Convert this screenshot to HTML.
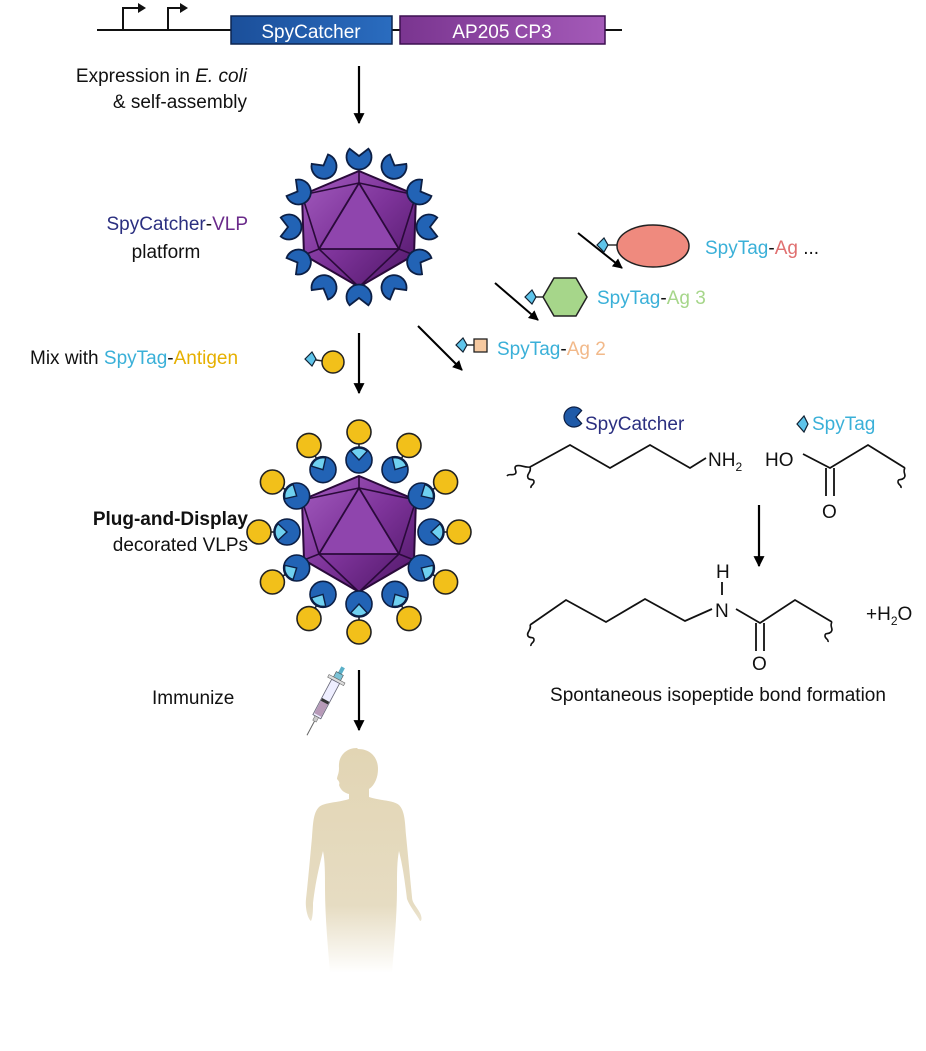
<!DOCTYPE html>
<html><head><meta charset="utf-8"><style>
html,body{margin:0;padding:0;background:#fff}
svg{display:block}
text{font-family:"Liberation Sans",Arial,sans-serif}
</style></head><body>
<svg id="s" width="926" height="1051" viewBox="0 0 926 1051" xmlns="http://www.w3.org/2000/svg">
<defs>
<linearGradient id="vg" x1="0" y1="0" x2="1" y2="1"><stop offset="0" stop-color="#a35cbf"/><stop offset="0.5" stop-color="#7d3399"/><stop offset="1" stop-color="#4e1666"/></linearGradient>
<linearGradient id="hg" x1="0" y1="0" x2="0" y2="1"><stop offset="0" stop-color="#e2d5b4"/><stop offset="0.7" stop-color="#e6dcc2"/><stop offset="1" stop-color="#ffffff"/></linearGradient>
<linearGradient id="bb" x1="0" y1="0" x2="1" y2="0"><stop offset="0" stop-color="#1b4f9a"/><stop offset="1" stop-color="#2a6cbf"/></linearGradient>
<linearGradient id="pb" x1="0" y1="0" x2="1" y2="0"><stop offset="0" stop-color="#7a3590"/><stop offset="1" stop-color="#a45ab8"/></linearGradient>
<marker id="ah" viewBox="0 0 10 10" refX="9" refY="5" markerWidth="5" markerHeight="5" orient="auto"><path d="M0,0 L10,5 L0,10 z" fill="#000"/></marker>
</defs>
<line x1="97" y1="30" x2="622" y2="30" stroke="#111" stroke-width="2"/>
<path d="M123,30 V8 H140" fill="none" stroke="#111" stroke-width="2"/><path d="M138,3 L146,8 L138,13z" fill="#111"/>
<path d="M168,30 V8 H182" fill="none" stroke="#111" stroke-width="2"/><path d="M180,3 L188,8 L180,13z" fill="#111"/>
<rect x="231" y="16" width="161" height="28" fill="url(#bb)" stroke="#0d2550" stroke-width="1.5"/>
<text x="311" y="38" font-size="19" fill="#fff" text-anchor="middle">SpyCatcher</text>
<rect x="400" y="16" width="205" height="28" fill="url(#pb)" stroke="#3d1050" stroke-width="1.5"/>
<text x="502" y="38" font-size="19" fill="#fff" text-anchor="middle">AP205 CP3</text>

<text x="247" y="82" font-size="19" text-anchor="end" fill="#111">Expression in <tspan font-style="italic">E. coli</tspan></text>
<text x="247" y="108" font-size="19" text-anchor="end" fill="#111">&amp; self-assembly</text>

<line x1="359" y1="66" x2="359" y2="123" stroke="#000" stroke-width="2.2" marker-end="url(#ah)"/>
<line x1="359" y1="333" x2="359" y2="393" stroke="#000" stroke-width="2.2" marker-end="url(#ah)"/>
<line x1="359" y1="670" x2="359" y2="730" stroke="#000" stroke-width="2.2" marker-end="url(#ah)"/>

<text x="248" y="230" font-size="19" text-anchor="end"><tspan fill="#2b2f80">SpyCatcher</tspan><tspan fill="#111">-</tspan><tspan fill="#6a2a8a">VLP</tspan></text>
<text x="166" y="258" font-size="19" text-anchor="middle" fill="#111">platform</text>

<text x="30" y="364" font-size="19" fill="#111">Mix with <tspan fill="#3ab0d8">SpyTag</tspan>-<tspan fill="#e6b000">Antigen</tspan></text>
<text x="248" y="525" font-size="19" text-anchor="end" font-weight="bold" fill="#111">Plug-and-Display</text>
<text x="248" y="551" font-size="19" text-anchor="end" fill="#111">decorated VLPs</text>
<text x="152" y="704" font-size="19" fill="#111">Immunize</text>

<line x1="578" y1="233" x2="622" y2="268" stroke="#000" stroke-width="2" marker-end="url(#ah)"/>
<line x1="495" y1="283" x2="538" y2="320" stroke="#000" stroke-width="2" marker-end="url(#ah)"/>
<line x1="418" y1="326" x2="462" y2="370" stroke="#000" stroke-width="2" marker-end="url(#ah)"/>

<!-- free antigens with tags -->
<line x1="608" y1="245" x2="617" y2="245" stroke="#222" stroke-width="1.4"/>
<polygon points="597,245 604,238 608,245 604,252" fill="#5ec4ea" stroke="#123" stroke-width="1.2"/>
<ellipse cx="653" cy="246" rx="36" ry="21" fill="#ef8a7e" stroke="#222" stroke-width="1.5"/>
<text x="705" y="254" font-size="19"><tspan fill="#3ab0d8">SpyTag</tspan><tspan fill="#111">-</tspan><tspan fill="#e07070">Ag</tspan><tspan fill="#111"> ...</tspan></text>

<line x1="536" y1="297" x2="543" y2="297" stroke="#222" stroke-width="1.4"/>
<polygon points="525,297 532,290 536,297 532,304" fill="#5ec4ea" stroke="#123" stroke-width="1.2"/>
<polygon points="587,297 576,316 554,316 543,297 554,278 576,278" fill="#a6d68a" stroke="#222" stroke-width="1.5"/>
<text x="597" y="304" font-size="19"><tspan fill="#3ab0d8">SpyTag</tspan><tspan fill="#111">-</tspan><tspan fill="#a6d68a">Ag 3</tspan></text>

<line x1="467" y1="345" x2="474" y2="345" stroke="#222" stroke-width="1.4"/>
<polygon points="456,345 463,338 467,345 463,352" fill="#5ec4ea" stroke="#123" stroke-width="1.2"/>
<rect x="474" y="339" width="13" height="13" fill="#f6c9a0" stroke="#222" stroke-width="1.3"/>
<text x="497" y="355" font-size="19"><tspan fill="#3ab0d8">SpyTag</tspan><tspan fill="#111">-</tspan><tspan fill="#f2b98a">Ag 2</tspan></text>

<line x1="316" y1="360" x2="323" y2="361" stroke="#222" stroke-width="1.4"/>
<polygon points="305,359 312,352 316,359 312,366" fill="#5ec4ea" stroke="#123" stroke-width="1.2"/>
<circle cx="333" cy="362" r="11" fill="#f2c01a" stroke="#222" stroke-width="1.5"/>

<g id="dyn"></g>

<!-- chemistry -->
<g fill="none" stroke="#111" stroke-width="1.8">
<path d="M530,467 L570,445 L610,468 L650,445 L690,468 L706,458"/>
<path d="M803,454 L830,468 L868,445 L905,468"/>
<path d="M826,468 V496 M834,468 V496"/>
<path d="M530,625 L566,600 L606,622 L645,599 L685,621 L712,609"/>
<path d="M736,609 L760,623 L795,600 L832,622"/>
<path d="M756,623 V651 M764,623 V651"/>
<path d="M722,582 V595"/>
</g>
<g fill="none" stroke="#111" stroke-width="1.6">
<path d="M530,467 c-6,1 -10,-3 -14,-1 c-3,2 2,6 -1,8 c-3,2 -6,-1 -8,2"/>
<path d="M530,467 c2,5 -4,7 -2,11 c2,3 6,0 6,4 c0,3 -4,3 -3,6"/>
<path d="M905,468 c-3,4 2,7 -1,10 c-3,3 -6,0 -6,4 c0,3 4,3 3,6"/>
<path d="M530,625 c2,5 -4,7 -2,11 c2,3 6,0 6,4 c0,3 -4,3 -3,6"/>
<path d="M832,622 c-3,4 2,7 -1,10 c-3,3 -6,0 -6,4 c0,3 4,3 3,6"/>
</g>
<line x1="759" y1="505" x2="759" y2="566" stroke="#000" stroke-width="2.2" marker-end="url(#ah)"/>
<text x="708" y="466" font-size="19" fill="#111">NH<tspan font-size="12" dy="5">2</tspan></text>
<text x="765" y="466" font-size="19" fill="#111">HO</text>
<text x="822" y="518" font-size="19" fill="#111">O</text>
<text x="716" y="578" font-size="19" fill="#111">H</text>
<text x="715" y="617" font-size="19" fill="#111">N</text>
<text x="752" y="670" font-size="19" fill="#111">O</text>
<text x="866" y="620" font-size="19" fill="#111">+H<tspan font-size="12" dy="5">2</tspan><tspan dy="-5">O</tspan></text>
<text x="718" y="701" font-size="19" text-anchor="middle" fill="#111">Spontaneous isopeptide bond formation</text>
<text x="585" y="430" font-size="19" fill="#2b2f80">SpyCatcher</text>
<text x="812" y="430" font-size="19" fill="#3ab0d8">SpyTag</text>
<polygon points="797,424 804,416 808,424 804,432" fill="#5ec4ea" stroke="#123" stroke-width="1.2"/>

<g transform="translate(322,707) rotate(28)">
<rect x="-2" y="-45" width="4" height="8" fill="#5ab0c8"/>
<rect x="-4" y="-38" width="8" height="6" fill="#7cc3d6" stroke="#555" stroke-width="0.6"/>
<rect x="-9" y="-32" width="18" height="3" fill="#ddd" stroke="#666" stroke-width="0.6"/>
<rect x="-4.5" y="-29" width="9" height="40" fill="#eef" stroke="#667" stroke-width="0.8"/>
<rect x="-4" y="-5" width="8" height="14" fill="#b79ab8"/>
<rect x="-4" y="-8" width="8" height="3" fill="#333"/>
<rect x="-2" y="11" width="4" height="5" fill="#ccc" stroke="#666" stroke-width="0.5"/>
<line x1="0" y1="16" x2="0" y2="32" stroke="#666" stroke-width="1"/>
</g>

<path fill="url(#hg)" d="M357,748 c-12,0 -19,9 -18,20 c0,6 -2,8 -2,11 c2,2 3,4 2,6 c2,6 6,8 10,9 l0,5 c-12,4 -24,3 -30,8 c-6,6 -6,18 -7,30 c-2,22 -4,44 -6,62 c-1,10 2,20 5,22 c2,-4 2,-12 2,-18 c2,-18 6,-36 10,-52 c2,10 2,22 2,36 c0,30 3,60 5,86 l62,0 c2,-26 5,-56 5,-86 c0,-14 0,-26 2,-36 c4,16 6,32 8,48 c3,8 10,16 13,22 c2,0 2,-4 0,-8 c-3,-6 -8,-10 -8,-16 c-2,-20 -4,-42 -6,-62 c-1,-12 -1,-24 -7,-30 c-6,-5 -18,-4 -30,-8 l0,-8 c6,-4 9,-12 9,-20 c0,-12 -8,-20 -20,-20z"/>
</svg>
<script>
(function(){
var NS="http://www.w3.org/2000/svg",g=document.getElementById('dyn');
function el(t,a){var e=document.createElementNS(NS,t);for(var k in a)e.setAttribute(k,a[k]);g.appendChild(e);return e;}
function P(x,y,r,a){return [x+r*Math.cos(a),y+r*Math.sin(a)];}
function vlp(cx,cy){
 var o=[[0,-56],[57,-32],[55,28],[0,60],[-55,28],[-57,-32]].map(function(p){return [cx+p[0],cy+p[1]]});
 var t=[[cx,cy-44],[cx-40,cy+22],[cx+40,cy+22]];
 el('polygon',{points:o.map(function(p){return p.join(',')}).join(' '),fill:'url(#vg)',stroke:'#2a0a3a','stroke-width':2});
 el('polygon',{points:t.map(function(p){return p.join(',')}).join(' '),fill:'#8f45ad',stroke:'#2a0a3a','stroke-width':1.8});
 var L=[[0,0],[0,5],[0,1],[1,5],[1,4],[1,3],[2,1],[2,2],[2,3]];
 L.forEach(function(l){el('line',{x1:t[l[0]][0],y1:t[l[0]][1],x2:o[l[1]][0],y2:o[l[1]][1],stroke:'#2a0a3a','stroke-width':1.6});});
}
function pac(x,y,a,r){
 var d=P(x,y,1,a),s=P(x,y,r,a+0.85),e=P(x,y,r,a-0.85);
 el('path',{d:'M'+d+' L'+s+' A'+r+' '+r+' 0 1 1 '+e+' Z',fill:'#2263b5',stroke:'#0c1f45','stroke-width':1.8});
}
vlp(359,227);
for(var i=0;i<12;i++){var a=-Math.PI/2+i*Math.PI/6,c=P(359,227,70,a);pac(c[0],c[1],a,12.5);}
var cx=359,cy=532;
vlp(cx,cy);
for(var i=0;i<12;i++){var a=-Math.PI/2+i*Math.PI/6,c=P(cx,cy,72,a),b=P(cx,cy,100,a),s=P(cx,cy,84,a);
 el('line',{x1:s[0],y1:s[1],x2:b[0],y2:b[1],stroke:'#222','stroke-width':1.6});
 el('circle',{cx:b[0],cy:b[1],r:12,fill:'#f2c01a',stroke:'#222','stroke-width':1.6});
 el('circle',{cx:c[0],cy:c[1],r:13,fill:'#2263b5',stroke:'#0c1f45','stroke-width':1.6});
 var s1=P(c[0],c[1],12,a-0.75),s2=P(c[0],c[1],12,a+0.75);
 el('path',{d:'M'+c+' L'+s1+' A12 12 0 0 1 '+s2+' Z',fill:'#6fd0f0',stroke:'#0c1f45','stroke-width':1.4});
}
var x=574,y=417,r=10,a=0;var d=P(x,y,2,a),s=P(x,y,r,a+0.7),e=P(x,y,r,a-0.7);
el('path',{d:'M'+d+' L'+s+' A'+r+' '+r+' 0 1 1 '+e+' Z',fill:'#1f5aa8',stroke:'#0c1f45','stroke-width':1.2});
})();
</script>
</body></html>
